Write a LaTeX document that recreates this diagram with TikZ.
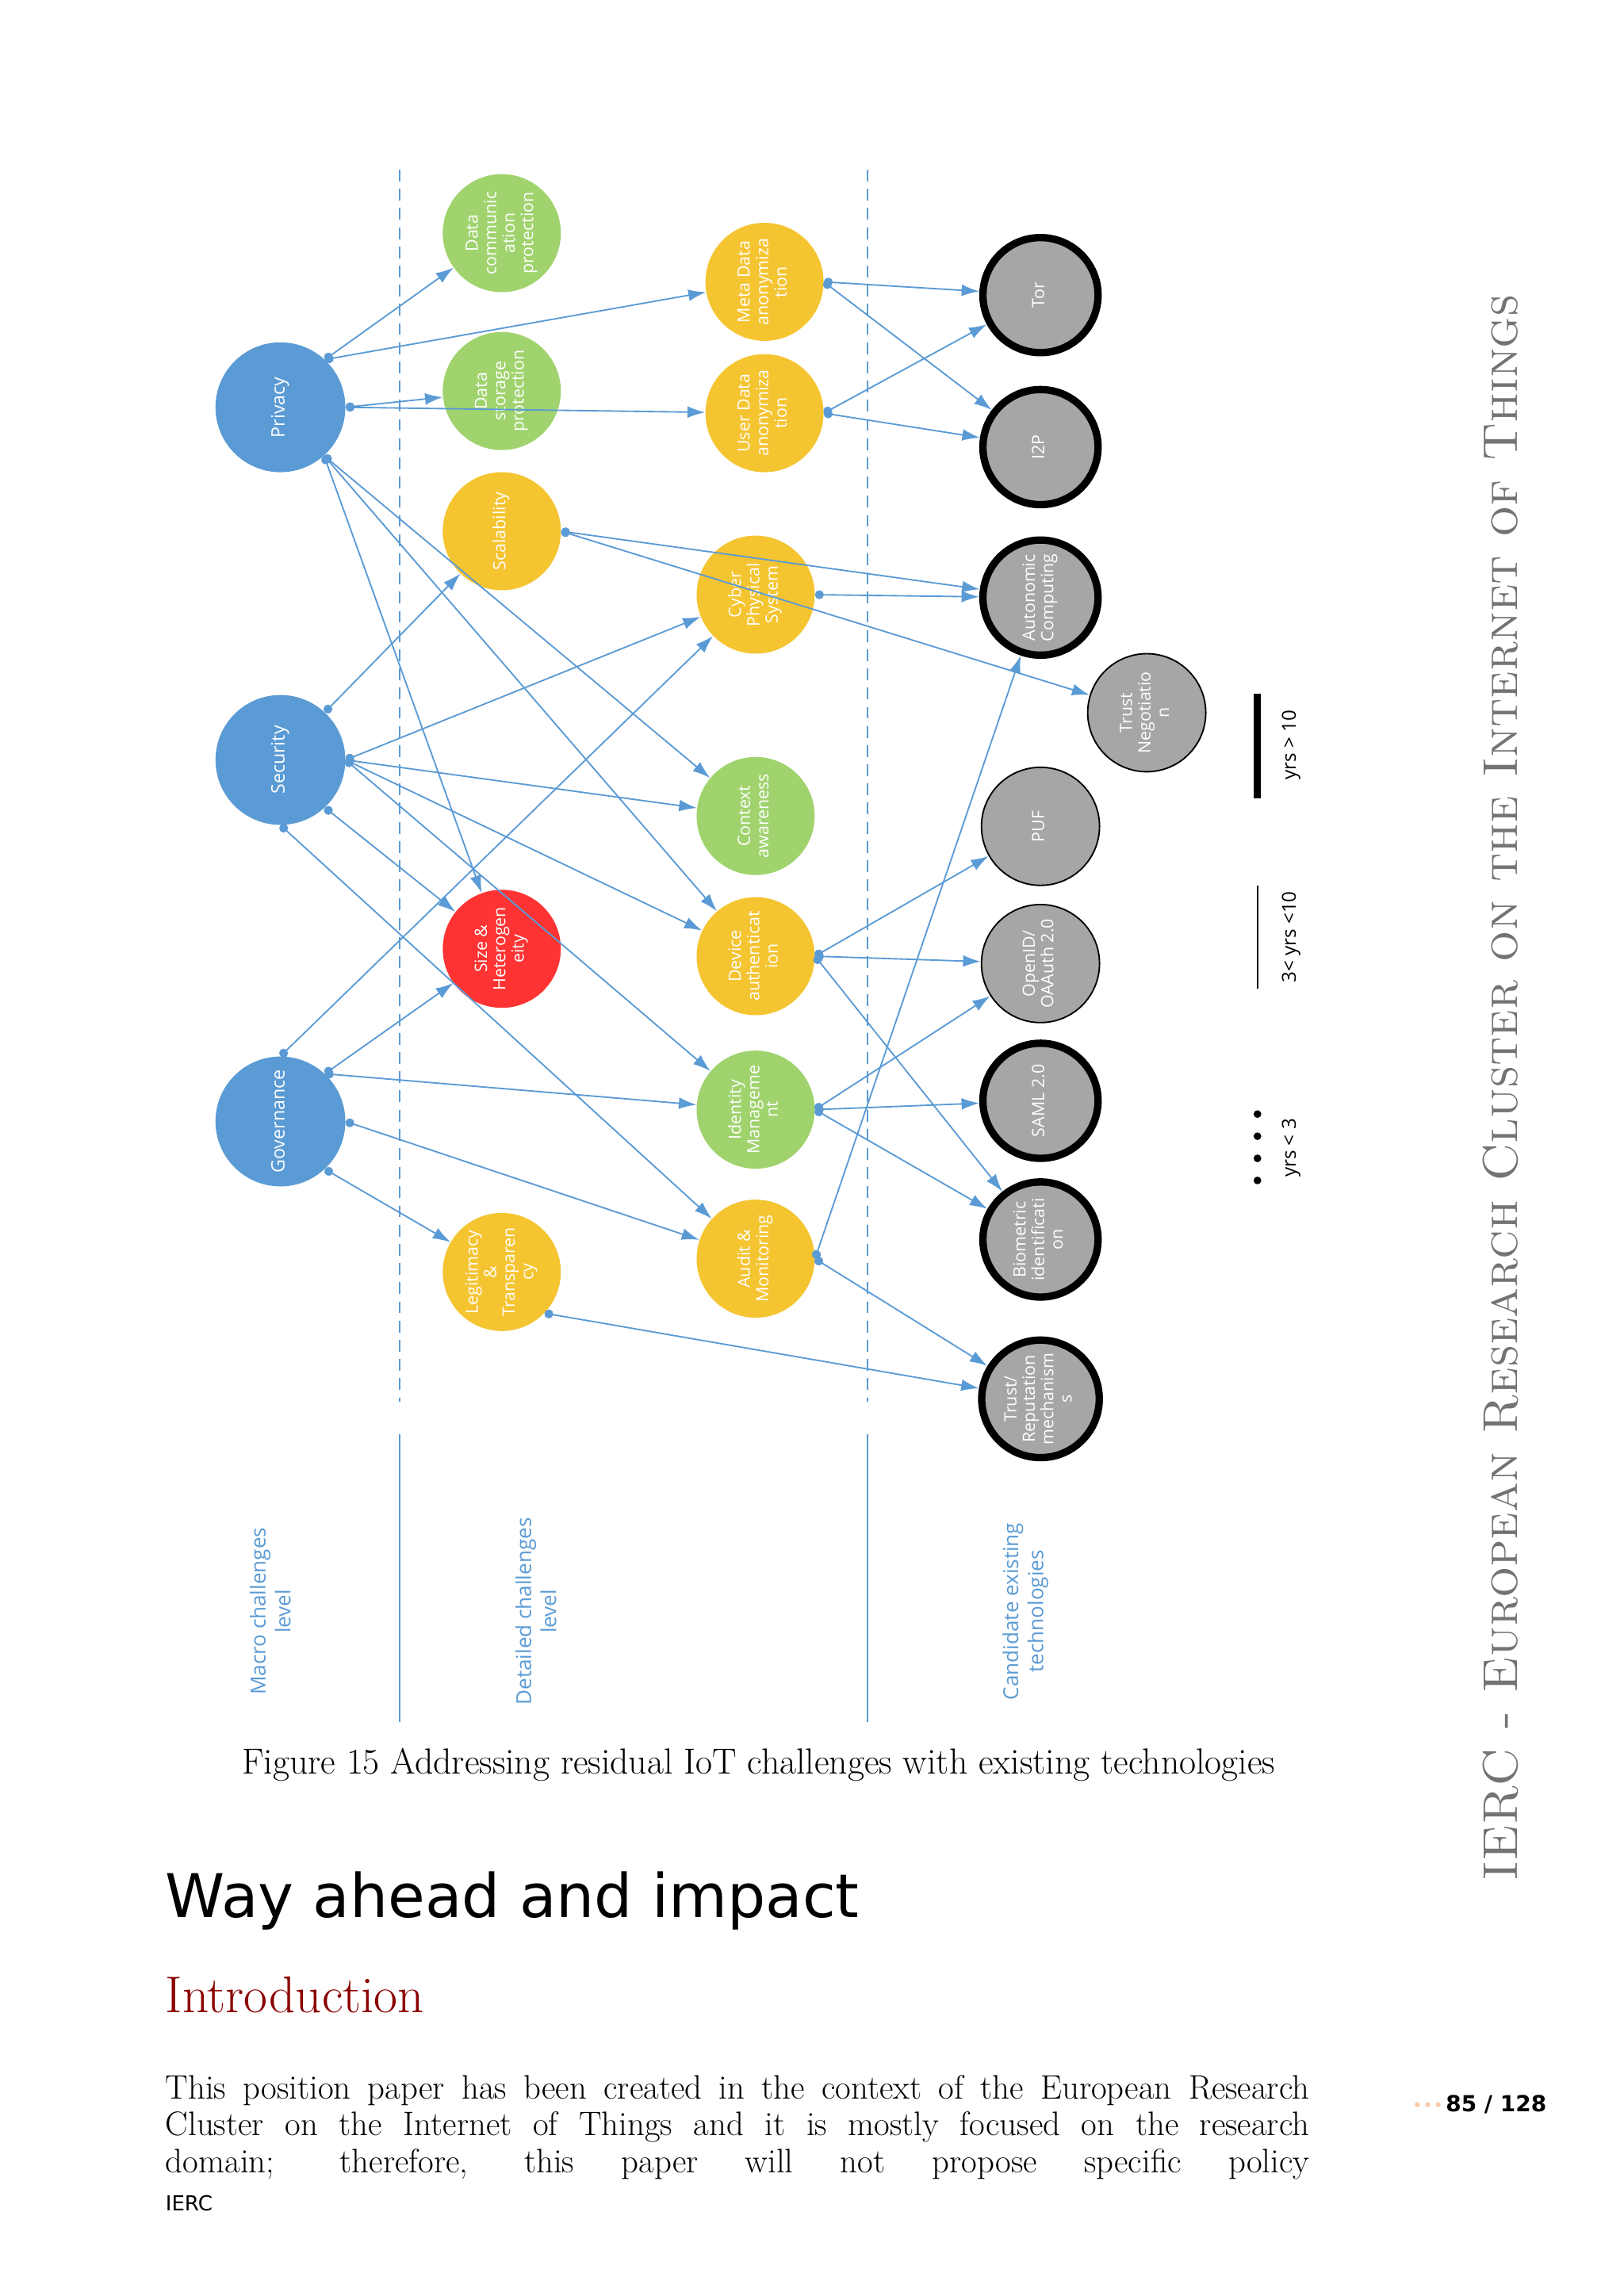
\documentclass[tikz,border=0pt]{standalone}
\usepackage{fontspec}
\usepackage{graphicx}
\usetikzlibrary{arrows.meta}
\newfontfamily\osans{Open Sans}
\newfontfamily\dejavu{DejaVu Sans}
\definecolor{eblue}{HTML}{5B9BD5}
\definecolor{cgreen}{HTML}{A0D36E}
\definecolor{cyellow}{HTML}{F5C431}
\definecolor{cred}{HTML}{FF3333}
\definecolor{cgray}{HTML}{A6A6A6}
\newcommand\rtxt[1]{\rotatebox{90}{\begin{tabular}{@{}c@{}}#1\end{tabular}}}
\newcommand\jline[1]{\makebox[775pt][s]{#1}}
\tikzset{
  base/.style={circle,inner sep=0pt,text=white,font=\osans\fontsize{11.5}{12.5}\selectfont},
  mac/.style={base,fill=eblue,minimum size=88pt,font=\osans\fontsize{12.5}{14}\selectfont},
  det/.style={base,minimum size=80pt},
  tthick/.style={base,fill=cgray,draw=black,line width=5pt,minimum size=78pt},
  tthin/.style={base,fill=cgray,draw=black,line width=1pt,minimum size=80pt},
  e/.style={draw=eblue,line width=1pt,{Circle[length=6pt]}-{Latex[length=12pt,width=8pt]}},
  vline/.style={draw=eblue,line width=1pt},
  lbl/.style={text=eblue,font=\osans\fontsize{14}{17}\selectfont}
}
\begin{document}
\begin{tikzpicture}[x=1pt,y=-1pt]
\useasboundingbox[fill=white] (0,0) rectangle (1100,1556);
% lines
\draw[vline,dash pattern=on 8pt off 5pt] (271,115) -- (271,950);
\draw[vline,dash pattern=on 8pt off 5pt] (588,115) -- (588,950);
\draw[vline] (271,972) -- (271,1167);
\draw[vline] (588,972) -- (588,1167);
% macro
\node[mac] (priv) at (190,276) {\rtxt{Privacy}};
\node[mac] (sec) at (190,515) {\rtxt{Security}};
\node[mac] (gov) at (190,760) {\rtxt{Governance}};
% detailed
\node[det,fill=cgreen] (dcp) at (340,158) {\rtxt{Data\\communic\\ation\\protection}};
\node[det,fill=cgreen] (dsp) at (340,265) {\rtxt{Data\\storage\\protection}};
\node[det,fill=cyellow] (sca) at (340,360) {\rtxt{Scalability}};
\node[det,fill=cred] (size) at (340,643) {\rtxt{Size \&\\Heterogen\\eity}};
\node[det,fill=cyellow] (leg) at (340,862) {\rtxt{Legitimacy\\\&\\Transparen\\cy}};
\node[det,fill=cyellow] (meta) at (518,191) {\rtxt{Meta Data\\anonymiza\\tion}};
\node[det,fill=cyellow] (user) at (518,280) {\rtxt{User Data\\anonymiza\\tion}};
\node[det,fill=cyellow] (cps) at (512,403) {\rtxt{Cyber\\Physical\\System}};
\node[det,fill=cgreen] (ctx) at (512,553) {\rtxt{Context\\awareness}};
\node[det,fill=cyellow] (dev) at (512,648) {\rtxt{Device\\authenticat\\ion}};
\node[det,fill=cgreen] (idm) at (512,752) {\rtxt{Identity\\Manageme\\nt}};
\node[det,fill=cyellow] (aud) at (512,853) {\rtxt{Audit \&\\Monitoring}};
% tech
\node[tthick] (tor) at (705,200) {\rtxt{Tor}};
\node[tthick] (i2p) at (705,303) {\rtxt{I2P}};
\node[tthick] (auto) at (705,405) {\rtxt{Autonomic\\Computing}};
\node[tthin] (tneg) at (777,483) {\rtxt{Trust\\Negotiatio\\n}};
\node[tthin] (puf) at (705,560) {\rtxt{PUF}};
\node[tthin] (oid) at (705,653) {\rtxt{OpenID/\\OAAuth 2.0}};
\node[tthick] (saml) at (705,746) {\rtxt{SAML 2.0}};
\node[tthick] (bio) at (705,840) {\rtxt{Biometric\\identificati\\on}};
\node[tthick] (trep) at (705,948) {\rtxt{Trust/\\Reputation\\mechanism\\s}};
% edges
\draw[e] (priv.47) -- (dcp);
\draw[e] (priv.47) -- (meta);
\draw[e] (priv.0) -- (dsp);
\draw[e] (priv.0) -- (user);
\draw[e] (priv.-48) -- (size);
\draw[e] (priv.-48) -- (dev);
\draw[e] (priv.-48) -- (ctx);
\draw[e] (sec.47) -- (sca);
\draw[e] (sec.0) -- (cps);
\draw[e] (sec.0) -- (ctx);
\draw[e] (sec.0) -- (dev);
\draw[e] (sec.0) -- (idm);
\draw[e] (sec.-47) -- (size);
\draw[e] (sec.-90) -- (aud);
\draw[e] (gov.90) -- (cps);
\draw[e] (gov.47) -- (size);
\draw[e] (gov.47) -- (idm);
\draw[e] (gov.0) -- (aud);
\draw[e] (gov.-47) -- (leg);
\draw[e] (sca.0) -- (auto);
\draw[e] (sca.0) -- (tneg);
\draw[e] (leg.-44) -- (trep);
\draw[e] (meta.0) -- (tor);
\draw[e] (meta.0) -- (i2p);
\draw[e] (user.0) -- (tor);
\draw[e] (user.0) -- (i2p);
\draw[e] (cps.0) -- (auto);
\draw[e] (dev.0) -- (puf);
\draw[e] (dev.0) -- (oid);
\draw[e] (dev.0) -- (bio);
\draw[e] (idm.0) -- (oid);
\draw[e] (idm.0) -- (saml);
\draw[e] (idm.0) -- (bio);
\draw[e] (aud.0) -- (auto);
\draw[e] (aud.0) -- (trep);
% column labels
\node[lbl] (l1) at (185,1092) {\rtxt{Macro challenges\\level}};
\node[lbl] (l2) at (365,1092) {\rtxt{Detailed challenges\\level}};
\node[lbl] (l3) at (695,1092) {\rtxt{Candidate existing\\technologies}};
% legend
\draw[line width=5pt] (852,470) -- (852,541);
\draw[line width=1pt] (852,600) -- (852,670);
\foreach \yy in {755,770,785,800} \fill (852,\yy) circle (2.6pt);
\node[font=\osans\fontsize{13}{15}\selectfont] (g1) at (875,505) {\rtxt{yrs > 10}};
\node[font=\osans\fontsize{13}{15}\selectfont] (g2) at (875,635) {\rtxt{3< yrs <10}};
\node[font=\osans\fontsize{13}{15}\selectfont] (g3) at (875,778) {\rtxt{yrs < 3}};
% side title
\node[text=black!55,inner sep=0pt] (title) at (1017,737) {\rotatebox{90}{\resizebox{1075pt}{!}{\fontsize{40}{40}\selectfont\textsc{IERC - European Research Cluster on the Internet of Things}}}};
% caption and text
\node[inner sep=0pt] (cap) at (514,1196) {\resizebox{700pt}{!}{\fontsize{21}{24}\selectfont Figure 15 Addressing residual IoT challenges with existing technologies}};
\node[inner sep=0pt,anchor=west] (h1) at (112,1288) {\resizebox{470pt}{!}{\dejavu\fontsize{38}{40}\selectfont Way ahead and impact}};
\node[inner sep=0pt,anchor=west,text={rgb,255:red,139;green,0;blue,0}] (h2) at (112,1352) {\fontsize{35}{36}\selectfont Introduction};
\node[inner sep=0pt,anchor=north west,align=left,font=\fontsize{23}{25}\selectfont] (par) at (112,1406) {\jline{This position paper has been created in the context of the European Research}\\\jline{Cluster on the Internet of Things and it is mostly focused on the research}\\\jline{domain; therefore, this paper will not propose specific policy}};
\node[inner sep=0pt,anchor=west] (ierc) at (112,1493) {\dejavu\fontsize{14}{16}\selectfont IERC};
\node[inner sep=0pt,anchor=east] (pg) at (1048,1426) {{\color[HTML]{F8CBAD}\dejavu\fontsize{12}{14}\selectfont •••}\,{\dejavu\bfseries\fontsize{15}{17}\selectfont 85 / 128}};
\end{tikzpicture}
\end{document}
